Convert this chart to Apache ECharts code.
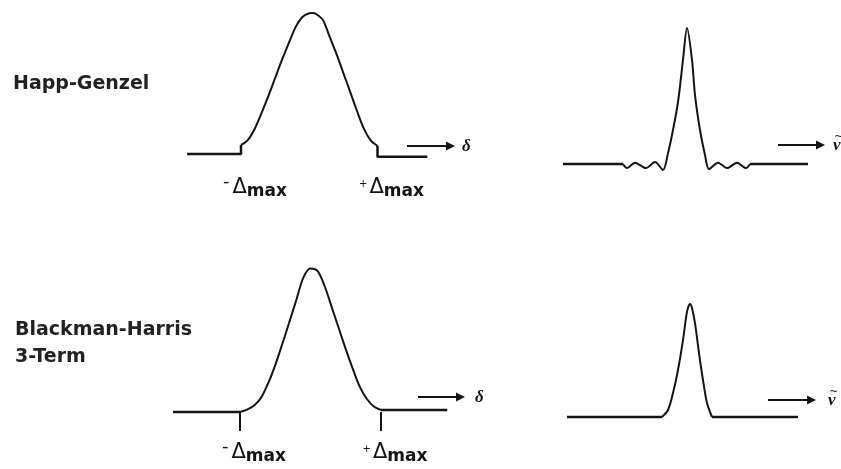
<!DOCTYPE html>
<html><head><meta charset="utf-8">
<script src="https://cdn.jsdelivr.net/npm/echarts@6/dist/echarts.min.js"></script>
<style>html,body{margin:0;padding:0;background:#fff}#c{width:841px;height:469px}</style>
</head><body><div id="c"></div>
<script>
// ---- text ----
const rowLabels = ['Happ-Genzel', 'Blackman-Harris\n3-Term'];
const deltaTickValues = [-1, 1];            // positions of −Δmax and +Δmax
const deltaTickText = ['-', '+'];
const axisSymbols = ['δ', 'ν'];

// ---- Happ-Genzel apodization function (x in units of Δmax) ----
const hgApodLeftEdge = [[-1.79, 0], [-1, 0], [-1, 0.064]];
const hgApodCurve = [[-1.0, 0.064], [-0.9, 0.099], [-0.8, 0.177], [-0.7, 0.29], [-0.6, 0.411],
  [-0.5, 0.539], [-0.4, 0.667], [-0.3, 0.787], [-0.2, 0.90], [-0.1, 0.972], [0.0, 0.998],
  [0.05, 1.0], [0.1, 0.993], [0.2, 0.95], [0.3, 0.83], [0.4, 0.709], [0.5, 0.574], [0.6, 0.44],
  [0.7, 0.305], [0.8, 0.18], [0.9, 0.096], [1.0, 0.057]];
const hgApodRightEdge = [[1, 0.057], [1, -0.02], [1.73, -0.02]];

// ---- Happ-Genzel instrument line shape ----
const hgIlsLeftBase = [[-12.4, 0], [-6.4, 0]];
const hgIlsCurve = [[-6.4, 0], [-6.0, -0.03], [-5.2, 0.01], [-4.1, -0.03], [-3.2, 0.015],
  [-2.4, -0.044], [-1.9, 0.08], [-1.4, 0.25], [-0.9, 0.456], [-0.4, 0.765], [0, 1],
  [0.5, 0.765], [0.8, 0.507], [1.3, 0.25], [1.8, 0.066], [2.2, -0.037], [3.1, 0.01],
  [4.0, -0.03], [5.0, 0.01], [5.9, -0.03], [6.3, 0]];
const hgIlsRightBase = [[6.3, 0], [12.1, 0]];

// ---- Blackman-Harris 3-term apodization function ----
const bhApodLeftBase = [[-1.95, 0], [-1, 0]];
const bhApodCurve = [[-1.0, 0], [-0.9, 0.017], [-0.8, 0.045], [-0.7, 0.10], [-0.6, 0.20],
  [-0.5, 0.326], [-0.4, 0.472], [-0.3, 0.625], [-0.2, 0.78], [-0.1, 0.935], [0.0, 0.997],
  [0.1, 0.98], [0.2, 0.875], [0.3, 0.73], [0.4, 0.583], [0.5, 0.437], [0.6, 0.30],
  [0.7, 0.174], [0.8, 0.09], [0.9, 0.038], [1.0, 0.014]];
const bhApodRightBase = [[1.0, 0.014], [1.94, 0.014]];

// ---- Blackman-Harris 3-term instrument line shape ----
const bhIlsLeftBase = [[-12.3, 0], [-2.8, 0]];
const bhIlsCurve = [[-2.8, 0], [-2.2, 0.062], [-1.7, 0.212], [-1.2, 0.416], [-0.7, 0.68],
  [-0.3, 0.93], [0, 1], [0.2, 0.965], [0.5, 0.83], [0.9, 0.566], [1.3, 0.327], [1.7, 0.124], [2.2, 0]];
const bhIlsRightBase = [[2.2, 0], [10.8, 0]];

const ink = '#141414';
const chart = echarts.init(document.getElementById('c'), null, {renderer: 'canvas'});

function deltaLabel(margin, withTicks) {
  return {
    axisLine: {show: false, onZero: true},
    axisTick: withTicks ? {show: true, customValues: deltaTickValues, length: 19, lineStyle: {color: ink, width: 2}} : {show: false},
    splitLine: {show: false},
    axisLabel: {
      show: true,
      customValues: deltaTickValues,
      margin: margin,
      padding: [0, 0, 0, 28],
      formatter: v => (v < 0 ? '{s|' + deltaTickText[0] + '}' : '{p|' + deltaTickText[1] + '}') + '{d|Δ}{m|max}',
      rich: {
        s: {fontSize: 18, lineHeight: 18, fontFamily: 'DejaVu Sans', color: ink, verticalAlign: 'top', padding: [0, 3, 0, 0]},
        p: {fontSize: 10, lineHeight: 10, fontFamily: 'DejaVu Sans', color: ink, verticalAlign: 'top', padding: [6, 2, 0, 0]},
        d: {fontSize: 21, lineHeight: 21, fontFamily: 'DejaVu Sans', color: ink, verticalAlign: 'top', padding: [4, 0, 0, 0]},
        m: {fontSize: 17, lineHeight: 17, fontFamily: 'DejaVu Sans', fontWeight: 'bold', color: ink, verticalAlign: 'top', padding: [10, 0, 0, 0]}
      }
    }
  };
}
const hiddenX = {axisLine: {show: false, onZero: true}, axisTick: {show: false}, axisLabel: {show: false}, splitLine: {show: false}};
const hiddenY = {type: 'value', min: -0.1, max: 1, axisLine: {show: false}, axisTick: {show: false}, axisLabel: {show: false}, splitLine: {show: false}};

function line(data, gi, smooth, width) {
  return {type: 'line', xAxisIndex: gi, yAxisIndex: gi, data: data, smooth: smooth, showSymbol: false, symbol: 'none',
    lineStyle: {color: ink, width: width}, silent: true};
}

function arrow(x1, x2, y, sym, tx, tilde) {
  const els = [
    {type: 'line', shape: {x1: x1, y1: y, x2: x2 - 6, y2: y}, style: {stroke: ink, lineWidth: 2}},
    {type: 'polygon', shape: {points: [[x2 - 9, y - 4.5], [x2, y], [x2 - 9, y + 4.5]]}, style: {fill: ink}},
    {type: 'text', x: tx, y: y + 1, style: {text: sym, font: 'italic bold 17px "Liberation Serif"', fill: ink, textVerticalAlign: 'middle'}}
  ];
  if (tilde) els.push({type: 'text', x: tx + 1, y: y - 8, style: {text: '~', font: '11px "DejaVu Sans"', fill: ink, textVerticalAlign: 'middle'}});
  return els;
}

const gridBase = {outerBoundsMode: 'none', containLabel: false};
chart.setOption({
  animation: false,
  backgroundColor: '#fff',
  grid: [
    Object.assign({left: 186.4, width: 245.7, top: 13, height: 155.1}, gridBase),
    Object.assign({left: 562, width: 250, top: 28, height: 149.6}, gridBase),
    Object.assign({left: 169.5, width: 282, top: 268, height: 158.4}, gridBase),
    Object.assign({left: 565, width: 250, top: 304, height: 124.3}, gridBase)
  ],
  xAxis: [
    Object.assign({type: 'value', gridIndex: 0, min: -1.8, max: 1.8}, deltaLabel(5, false)),
    Object.assign({type: 'value', gridIndex: 1, min: -12.5, max: 12.5}, hiddenX),
    Object.assign({type: 'value', gridIndex: 2, min: -2, max: 2}, deltaLabel(12, true)),
    Object.assign({type: 'value', gridIndex: 3, min: -12.5, max: 12.5}, hiddenX)
  ],
  yAxis: [0, 1, 2, 3].map(i => Object.assign({gridIndex: i}, hiddenY)),
  series: [
    line(hgApodLeftEdge, 0, false, 2.5), line(hgApodCurve, 0, 0.3, 2), line(hgApodRightEdge, 0, false, 2.5),
    line(hgIlsLeftBase, 1, false, 2.5), line(hgIlsCurve, 1, 0.3, 2), line(hgIlsRightBase, 1, false, 2.5),
    line(bhApodLeftBase, 2, false, 2.5), line(bhApodCurve, 2, 0.3, 2), line(bhApodRightBase, 2, false, 2.5),
    line(bhIlsLeftBase, 3, false, 2.5), line(bhIlsCurve, 3, 0.3, 2), line(bhIlsRightBase, 3, false, 2.5)
  ],
  graphic: [
    {type: 'text', x: 13, y: 84, style: {text: rowLabels[0], font: 'bold 19px "DejaVu Sans"', fill: '#222', textVerticalAlign: 'middle'}},
    {type: 'text', x: 15, y: 343.5, style: {text: rowLabels[1], font: 'bold 19px "DejaVu Sans"', lineHeight: 27, fill: '#222', textVerticalAlign: 'middle'}}
  ].concat(arrow(407, 455, 146, axisSymbols[0], 462, false))
   .concat(arrow(778, 825, 145, axisSymbols[1], 833, true))
   .concat(arrow(418, 465, 397, axisSymbols[0], 475, false))
   .concat(arrow(768, 816, 400, axisSymbols[1], 828, true))
});
</script></body></html>
